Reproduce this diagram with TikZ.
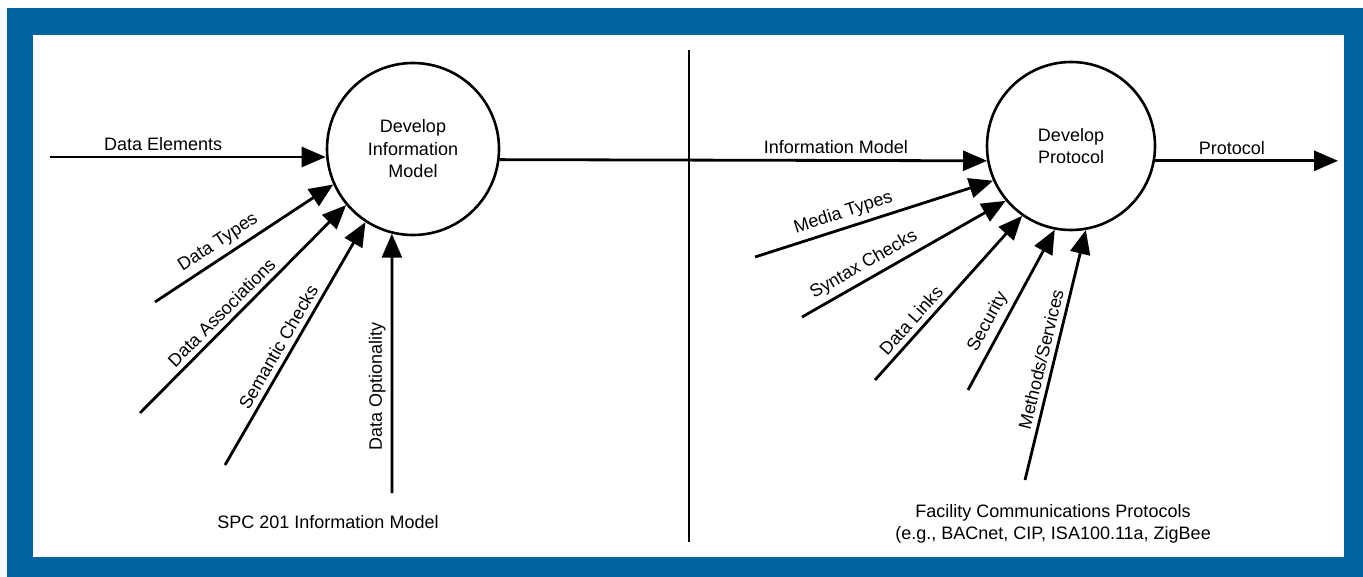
\documentclass[tikz,border=0pt]{standalone}
\usepackage{fontspec}
\setmainfont{Liberation Sans}
\usetikzlibrary{arrows.meta}
\definecolor{framebl}{RGB}{0,100,162}
\begin{document}
\begin{tikzpicture}[x=0.5pt,y=-0.5pt,
  every node/.style={font=\fontsize{9}{11.25}\selectfont},
  proc/.style={circle,draw,line width=1.3pt,inner sep=0pt,align=center},
  flow/.style={line width=1.4pt,-{Triangle[length=12pt,width=10pt]}},
  lbl/.style={inner sep=2.5pt}]
  \useasboundingbox (0,0) rectangle (1363,577);
  % Frame
  \fill[framebl] (7,8) rectangle (1363,577);
  \fill[white] (33,35) rectangle (1344,557);
  % Divider
  \draw[line width=1.2pt] (689,50) -- (689,542);
  % Process circles
  \node[proc,minimum size=86pt] (devim) at (413,149) {Develop\\Information\\Model};
  \node[proc,minimum size=84pt] (devproto) at (1071,146) {Develop\\Protocol};
  % Horizontal flows
  \coordinate (delem) at (50,157);
  \coordinate (protoend) at (1338,160);
  \draw[flow] (delem) -- node[lbl,above,pos=0.41] {Data Elements} (delem -| devim.west);
  \draw[flow] (devim.-7) -- node[lbl,above,pos=0.69] {Information Model} (devproto.190);
  \draw[flow] (devproto.-10) -- node[lbl,above,pos=0.42] {Protocol} (devproto.-10 -| protoend);
  % Inputs to Develop Information Model
  \foreach \x/\y/\a/\p/\txt [count=\i] in {155/302/204/0.40/Data Types,
      140/413/220/0.44/Data Associations, 225/465/237/0.46/Semantic Checks,
      392/493/256/0.41/Data Optionality}{
    \coordinate (im\i) at (\x,\y);
    \draw[flow] (im\i) -- node[lbl,sloped,allow upside down,above,pos=\p] {\txt} (devim.\a);
  }
  % Inputs to Develop Protocol
  \foreach \x/\y/\a/\p/\txt [count=\i] in {755/257/204/0.39/Media Types,
      802/317/220/0.34/Syntax Checks, 875/380/235/0.31/Data Links,
      968/390/259/0.38/Security, 1025/480/280/0.47/{Methods/Services}}{
    \coordinate (dp\i) at (\x,\y);
    \draw[flow] (dp\i) -- node[lbl,sloped,allow upside down,above,pos=\p] {\txt} (devproto.\a);
  }
  % Bottom labels
  \node (spc) at (328,522) {SPC 201 Information Model};
  \node[align=center] (fcp) at (1053,524) {Facility Communications Protocols\\(e.g., BACnet, CIP, ISA100.11a, ZigBee};
\end{tikzpicture}
\end{document}
